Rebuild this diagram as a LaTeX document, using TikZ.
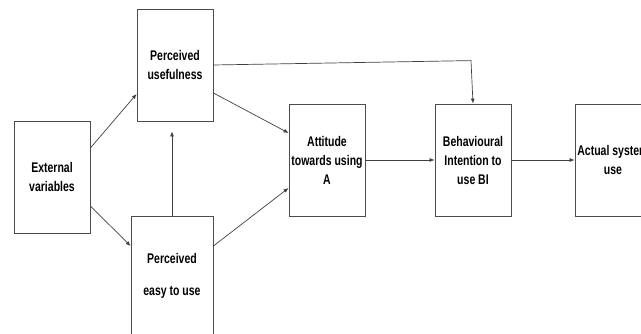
\documentclass[tikz,border=0pt]{standalone}
\usepackage{fontspec}
\setmainfont{Liberation Sans}[FakeStretch=0.75]
\usepackage{tikz}
\usetikzlibrary{
  arrows.meta,
  positioning
}

\begin{document}
\begin{tikzpicture}[
  x=1pt, y=-1pt,
  tambox/.style={
    draw=black!70, line width=0.8pt,
    minimum width=76pt, minimum height=112pt,
    align=center, inner sep=0pt,
    font=\fontsize{14}{19}\selectfont\bfseries
  },
  arrow/.style={
    -{Latex[length=5pt, width=4pt]},
    line width=0.7pt, draw=black!75
  }
]
\useasboundingbox (0,0) rectangle (641,334);

\node[tambox] (ext) at (52,177) {External\\variables};
\node[tambox] (pu) at (175,65) {Perceived\\usefulness};
\node[tambox, minimum width=82pt, minimum height=120pt] (pe) at (172,276)
  {Perceived\\[13pt]easy to use};
\node[tambox] (att) at (327,160) {Attitude\\towards using\\A};
\node[tambox] (bi) at (473,160) {Behavioural\\Intention to\\use BI};
\node[tambox] (asu) at (613,160) {Actual system\\use};

\draw[arrow] ([yshift=29pt]ext.east) -- ([yshift=-29pt]pu.west);
\draw[arrow] ([yshift=-29pt]ext.east) -- ([yshift=30pt]pe.west);
\draw[arrow] (pe.north) -- ([yshift=-10pt]pe.north |- pu.south);
\draw[arrow] ([yshift=-28pt]pu.east) -- ([yshift=27pt]att.west);
\draw[arrow] ([yshift=30pt]pe.east) -- ([yshift=-28pt]att.west);
\draw[arrow] (pu.east) -- ([xshift=-2pt, yshift=43pt]bi.north) -- (bi.north);
\draw[arrow] (att.east) -- (bi.west);
\draw[arrow] (bi.east) -- (asu.west);

\end{tikzpicture}
\end{document}
